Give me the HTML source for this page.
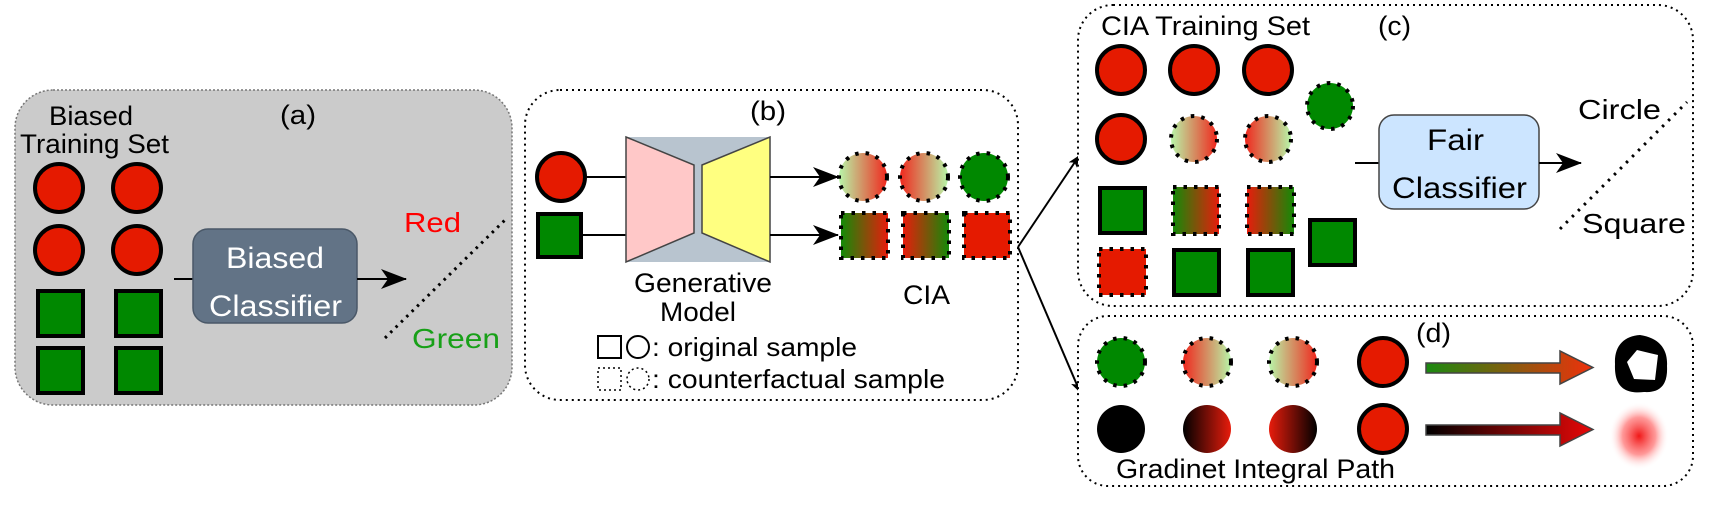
<!DOCTYPE html>
<html><head><meta charset="utf-8"><style>
html,body{margin:0;padding:0;background:#fff;}
svg{display:block;}
text{font-family:"Liberation Sans",Arial,sans-serif;}
</style></head><body>
<svg width="1712" height="518" viewBox="0 0 1712 518" xmlns="http://www.w3.org/2000/svg">
<defs>
<linearGradient id="gR" x1="0" x2="1"><stop offset="0" stop-color="#b8f5a8"/><stop offset="1" stop-color="#f0281e"/></linearGradient>
<linearGradient id="rG" x1="0" x2="1"><stop offset="0" stop-color="#f0281e"/><stop offset="1" stop-color="#b8f5a8"/></linearGradient>
<linearGradient id="GR" x1="0" x2="1"><stop offset="0" stop-color="#138a08"/><stop offset="1" stop-color="#e81c0c"/></linearGradient>
<linearGradient id="RG" x1="0" x2="1"><stop offset="0" stop-color="#e81c0c"/><stop offset="1" stop-color="#138a08"/></linearGradient>
<linearGradient id="kR" x1="0" x2="1"><stop offset="0" stop-color="#000"/><stop offset="1" stop-color="#e81c0c"/></linearGradient>
<linearGradient id="Rk" x1="0" x2="1"><stop offset="0" stop-color="#e81c0c"/><stop offset="1" stop-color="#000"/></linearGradient>
<linearGradient id="arG" x1="0" x2="1"><stop offset="0" stop-color="#1a8a10"/><stop offset="1" stop-color="#f0300c"/></linearGradient>
<linearGradient id="arK" x1="0" x2="1"><stop offset="0" stop-color="#000"/><stop offset="1" stop-color="#e80808"/></linearGradient>
<radialGradient id="blur"><stop offset="0" stop-color="#f01818"/><stop offset="0.55" stop-color="#f77" stop-opacity="0.75"/><stop offset="1" stop-color="#fff" stop-opacity="0"/></radialGradient>
<marker id="ah" markerWidth="12" markerHeight="10" refX="11" refY="5" orient="auto" markerUnits="userSpaceOnUse"><path d="M0,0 L12,5 L0,10 L3,5 Z" fill="#000"/></marker>
<marker id="ahb" markerWidth="26" markerHeight="20" refX="25" refY="10" orient="auto" markerUnits="userSpaceOnUse"><path d="M0,0 L26,10 L0,20 L7,10 Z" fill="#000"/></marker>
</defs>

<!-- Panel a -->
<rect x="15" y="90" width="497" height="315" rx="38" fill="#cbcbcb" stroke="#777" stroke-width="1.5" stroke-dasharray="2 2"/>
<text x="49" y="125" font-size="27" textLength="84" lengthAdjust="spacingAndGlyphs">Biased</text>
<text x="20" y="153" font-size="27" textLength="149" lengthAdjust="spacingAndGlyphs">Training Set</text>
<text x="280" y="124" font-size="27" textLength="36" lengthAdjust="spacingAndGlyphs">(a)</text>
<g fill="#e51a00" stroke="#000" stroke-width="4">
<circle cx="59" cy="188" r="24"/><circle cx="137" cy="188" r="24"/>
<circle cx="59" cy="250" r="24"/><circle cx="137" cy="250" r="24"/>
</g>
<g fill="#008800" stroke="#000" stroke-width="4">
<rect x="38" y="291" width="45" height="45"/><rect x="116" y="291" width="45" height="45"/>
<rect x="38" y="348" width="45" height="45"/><rect x="116" y="348" width="45" height="45"/>
</g>
<line x1="174" y1="279" x2="193" y2="279" stroke="#000" stroke-width="2"/>
<rect x="193" y="229" width="164" height="94" rx="15" fill="#627386" stroke="#4a5868" stroke-width="1.5"/>
<text x="226" y="268" font-size="30" fill="#fff" textLength="98" lengthAdjust="spacingAndGlyphs">Biased</text>
<text x="209" y="316" font-size="30" fill="#fff" textLength="133" lengthAdjust="spacingAndGlyphs">Classifier</text>
<line x1="357" y1="279" x2="406" y2="279" stroke="#000" stroke-width="2" marker-end="url(#ahb)"/>
<line x1="385" y1="338" x2="507" y2="218" stroke="#000" stroke-width="3" stroke-dasharray="2.5 5"/>
<text x="404" y="232" font-size="28" fill="#f00" textLength="57" lengthAdjust="spacingAndGlyphs">Red</text>
<text x="412" y="348" font-size="28" fill="#18a018" textLength="88" lengthAdjust="spacingAndGlyphs">Green</text>

<!-- Panel b -->
<rect x="525" y="90" width="493" height="310" rx="35" fill="#fff" stroke="#000" stroke-width="2" stroke-dasharray="2 4"/>
<text x="750" y="120" font-size="27" textLength="36" lengthAdjust="spacingAndGlyphs">(b)</text>
<circle cx="561" cy="177" r="24" fill="#e51a00" stroke="#000" stroke-width="4"/>
<rect x="538" y="214" width="43" height="43" fill="#008800" stroke="#000" stroke-width="4"/>
<line x1="585" y1="177" x2="626" y2="177" stroke="#000" stroke-width="2"/>
<line x1="583" y1="235" x2="626" y2="235" stroke="#000" stroke-width="2"/>
<rect x="626" y="137" width="144" height="125" fill="#b8c4cf"/>
<polygon points="626,137 694,165 694,233 626,262" fill="#ffc8c8" stroke="#444" stroke-width="1.5"/>
<polygon points="702,165 770,137 770,262 702,233" fill="#ffff80" stroke="#444" stroke-width="1.5"/>
<line x1="770" y1="177" x2="838" y2="177" stroke="#000" stroke-width="2" marker-end="url(#ahb)"/>
<line x1="770" y1="235" x2="838" y2="235" stroke="#000" stroke-width="2" marker-end="url(#ahb)"/>
<g stroke="#000" stroke-width="4" stroke-dasharray="3.5 7">
<circle cx="863" cy="177" r="24" fill="url(#gR)"/>
<circle cx="924" cy="177" r="24" fill="url(#rG)"/>
<circle cx="984" cy="177" r="24" fill="#008800"/>
<rect x="841" y="213" width="47" height="45" fill="url(#GR)"/>
<rect x="903" y="213" width="46" height="45" fill="url(#RG)"/>
<rect x="964" y="213" width="46" height="45" fill="#e51a00"/>
</g>
<text x="634" y="292" font-size="27" textLength="138" lengthAdjust="spacingAndGlyphs">Generative</text>
<text x="660" y="321" font-size="27" textLength="76" lengthAdjust="spacingAndGlyphs">Model</text>
<text x="903" y="304" font-size="27" textLength="47" lengthAdjust="spacingAndGlyphs">CIA</text>
<rect x="598" y="336" width="23" height="22" fill="none" stroke="#000" stroke-width="2"/>
<circle cx="638" cy="347" r="11" fill="none" stroke="#000" stroke-width="2"/>
<text x="652" y="356" font-size="26" textLength="205" lengthAdjust="spacingAndGlyphs">: original sample</text>
<rect x="598" y="368" width="23" height="22" fill="none" stroke="#000" stroke-width="1.5" stroke-dasharray="2 3"/>
<circle cx="638" cy="379" r="11" fill="none" stroke="#000" stroke-width="1.5" stroke-dasharray="2 3"/>
<text x="652" y="388" font-size="26" textLength="293" lengthAdjust="spacingAndGlyphs">: counterfactual sample</text>

<!-- connectors b -> c,d -->
<line x1="1018" y1="247" x2="1079" y2="156" stroke="#000" stroke-width="2" marker-end="url(#ah)"/>
<line x1="1018" y1="247" x2="1080" y2="392" stroke="#000" stroke-width="2" marker-end="url(#ah)"/>

<!-- Panel c -->
<rect x="1078" y="5" width="615" height="301" rx="35" fill="#fff" stroke="#000" stroke-width="2" stroke-dasharray="2 4"/>
<text x="1101" y="35" font-size="27" textLength="209" lengthAdjust="spacingAndGlyphs">CIA Training Set</text>
<text x="1378" y="35" font-size="27" textLength="33" lengthAdjust="spacingAndGlyphs">(c)</text>
<g fill="#e51a00" stroke="#000" stroke-width="4">
<ellipse cx="1121" cy="70" rx="24" ry="24"/><ellipse cx="1194" cy="70" rx="24" ry="24"/><ellipse cx="1268" cy="70" rx="24" ry="24"/>
<ellipse cx="1121" cy="139" rx="24" ry="24"/>
</g>
<g stroke="#000" stroke-width="4" stroke-dasharray="3.5 7">
<circle cx="1194" cy="139" r="23" fill="url(#gR)"/>
<circle cx="1268" cy="139" r="23" fill="url(#rG)"/>
<circle cx="1330" cy="106" r="23" fill="#008800"/>
<rect x="1173" y="187" width="46" height="47" fill="url(#GR)"/>
<rect x="1247" y="187" width="47" height="47" fill="url(#RG)"/>
<rect x="1099" y="249" width="47" height="46" fill="#e51a00"/>
</g>
<g fill="#008800" stroke="#000" stroke-width="4">
<rect x="1100" y="188" width="45" height="45"/>
<rect x="1174" y="250" width="45" height="45"/>
<rect x="1248" y="250" width="45" height="45"/>
<rect x="1310" y="220" width="45" height="45"/>
</g>
<line x1="1355" y1="163" x2="1379" y2="163" stroke="#000" stroke-width="2"/>
<rect x="1379" y="115" width="160" height="94" rx="15" fill="#cce5ff" stroke="#444" stroke-width="1.5"/>
<text x="1427" y="150" font-size="30" textLength="57" lengthAdjust="spacingAndGlyphs">Fair</text>
<text x="1392" y="198" font-size="30" textLength="135" lengthAdjust="spacingAndGlyphs">Classifier</text>
<line x1="1539" y1="163" x2="1581" y2="163" stroke="#000" stroke-width="2" marker-end="url(#ahb)"/>
<line x1="1560" y1="229" x2="1687" y2="102" stroke="#000" stroke-width="3" stroke-dasharray="2.5 6"/>
<text x="1578" y="119" font-size="28" textLength="83" lengthAdjust="spacingAndGlyphs">Circle</text>
<text x="1582" y="233" font-size="28" textLength="104" lengthAdjust="spacingAndGlyphs">Square</text>

<!-- Panel d -->
<rect x="1078" y="316" width="615" height="170" rx="30" fill="#fff" stroke="#000" stroke-width="2" stroke-dasharray="2 4"/>
<text x="1416" y="342" font-size="27" textLength="35" lengthAdjust="spacingAndGlyphs">(d)</text>
<g stroke="#000" stroke-width="4" stroke-dasharray="3.5 7">
<ellipse cx="1121" cy="362" rx="24" ry="24" fill="#008800"/>
<ellipse cx="1207" cy="362" rx="24" ry="24" fill="url(#rG)"/>
<ellipse cx="1293" cy="362" rx="24" ry="24" fill="url(#gR)"/>
</g>
<ellipse cx="1383" cy="362" rx="24" ry="24" fill="#e51a00" stroke="#000" stroke-width="4"/>
<ellipse cx="1121" cy="429" rx="24" ry="24" fill="#000"/>
<ellipse cx="1207" cy="429" rx="24" ry="24" fill="url(#kR)"/>
<ellipse cx="1293" cy="429" rx="24" ry="24" fill="url(#Rk)"/>
<ellipse cx="1383" cy="429" rx="24" ry="24" fill="#e51a00" stroke="#000" stroke-width="4"/>
<polygon points="1426,363 1560,363 1560,351 1593,367.5 1560,384 1560,373 1426,373" fill="url(#arG)" stroke="#444" stroke-width="1.5"/>
<polygon points="1426,425 1560,425 1560,413 1593,429.5 1560,446 1560,435 1426,435" fill="url(#arK)" stroke="#444" stroke-width="1.5"/>
<path d="M1640,335 C1660,338 1668,350 1667,366 C1668,385 1660,393 1644,392 C1626,394 1614,388 1615,364 C1614,346 1624,336 1640,335 Z M1637,350 L1627,362 L1634,379 L1655,380 L1658,355 Z" fill="#000" fill-rule="evenodd"/>
<ellipse cx="1639" cy="436" rx="30" ry="34" fill="url(#blur)"/>
<text x="1116" y="478" font-size="27" textLength="279" lengthAdjust="spacingAndGlyphs">Gradinet Integral Path</text>
</svg>
</body></html>
